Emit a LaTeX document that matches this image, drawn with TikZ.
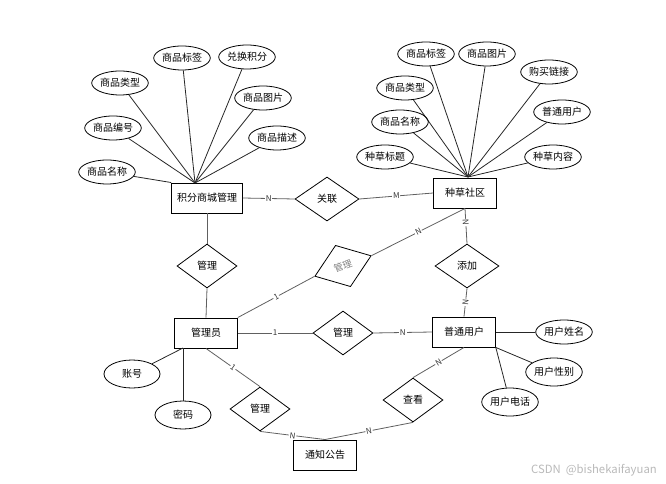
\documentclass[tikz,border=0pt]{standalone}
\usepackage{fontspec}
\setmainfont{Noto Sans CJK SC}
\usetikzlibrary{shapes.geometric}

\tikzset{
	entity/.style={draw, line width=0.7pt, minimum width=47pt, minimum height=22.5pt, inner sep=1pt},
	attr/.style={draw, ellipse, line width=0.6pt, minimum width=40.5pt, minimum height=18pt, inner sep=0pt},
	bigattr/.style={attr, minimum width=42pt, minimum height=21pt},
	rel/.style={draw, diamond, line width=0.6pt, minimum width=45pt, minimum height=33pt, inner sep=0pt},
	link/.style={draw=gray!75!black, line width=0.6pt},
	card/.style={font=\fontsize{6}{7}\selectfont, fill=white, inner sep=0.6pt, text=black!80},
}

\begin{document}
\begin{tikzpicture}[x=0.75pt, y=-0.75pt, font=\fontsize{7.5}{9}\selectfont]
	\useasboundingbox (0,0) rectangle (666,484);

	% entities
	\node[entity, minimum width=53pt] (jf) at (207,198) {积分商城管理};
	\node[entity] (zc) at (465,193) {种草社区};
	\node[entity] (admin) at (206,333) {管理员};
	\node[entity] (user) at (464,332) {普通用户};
	\node[entity] (notice) at (325,455) {通知公告};

	% relations
	\node[rel, minimum width=48pt] (gl) at (327,199) {关联};
	\node[rel] (mg1) at (207,266) {管理};
	\node[rel, rotate=20, text=gray, font=\fontsize{7}{8}\selectfont] (mg2) at (343,266) {管理};
	\node[rel, minimum width=48pt] (tj) at (467,266) {添加};
	\node[rel] (mg3) at (343,333) {管理};
	\node[rel] (mg4) at (260,409) {管理};
	\node[rel] (ck) at (413,400) {查看};

	% attributes of 积分商城管理
	\coordinate (jfhub) at (195,183);
	\foreach \nm/\x/\y/\txt in {
		ja/182/58/商品标签, jb/247/57/兑换积分, jc/120/83/商品类型,
		jd/263/98/商品图片, je/113/128/商品编号, jg/277/138/商品描述
	}{
		\node[attr] (\nm) at (\x,\y) {\txt};
		\draw[line width=0.6pt, black!85] (\nm) -- (jfhub);
	};
	\node[attr] (jh) at (107,172) {商品名称};
	\draw[line width=0.6pt, black!85] (jh) -- (jf.north west);

	% attributes of 种草社区
	\coordinate (zchub) at (468,177);
	\foreach \nm/\x/\y/\txt in {
		za/426/54/商品标签, zb/487/54/商品图片, zd/549/72/购买链接,
		ze/405/88/商品类型, zf/562/112/普通用户, zg/400/122/商品名称,
		zh/385/157/种草标题, zi/553/157/种草内容
	}{
		\node[attr] (\nm) at (\x,\y) {\txt};
		\draw[line width=0.6pt, black!85] (\nm) -- (zchub);
	};

	% attributes of 管理员
	\coordinate (afoot) at (183,348);
	\node[bigattr] (zh1) at (132,374) {账号};
	\node[bigattr] (mm) at (183,415) {密码};
	\draw[line width=0.6pt, black!85] (zh1) -- (afoot);
	\draw[line width=0.6pt, black!85] (mm) -- (afoot);

	% attributes of 普通用户
	\node[bigattr, minimum height=18pt] (xm) at (564,332) {用户姓名};
	\node[bigattr] (xb) at (554,372) {用户性别};
	\node[bigattr] (dh) at (510,402) {用户电话};
	\draw[line width=0.6pt, black!85] (user.east) -- (xm);
	\draw[line width=0.6pt, black!85] (user.south east) -- (xb);
	\draw[line width=0.6pt, black!85] (user.south east) -- (dh);

	% connectors
	\draw[link] (jf.east) -- node[card] {N} (gl.west);
	\draw[link] (gl.east) -- node[card] {M} (zc.west);
	\draw[link] (jf.south) -- (mg1.north);
	\draw[link] (mg1.south) -- (admin.north);
	\draw[link] (admin.north east) -- node[card, sloped] {1} (mg2.west);
	\draw[link] (mg2.east) -- node[card, sloped] {N} (zc.south);
	\draw[link] (zc.south) -- node[card, sloped, pos=0.4] {N} (tj.north);
	\draw[link] (tj.south) -- node[card, sloped] {N} (user.north);
	\draw[link] (admin.east) -- node[card] {1} (mg3.west);
	\draw[link] (mg3.east) -- node[card] {N} (user.west);
	\draw[link] (admin.south) -- node[card, sloped] {1} (mg4.north);
	\draw[link] (mg4.south) -- node[card, sloped] {N} (notice.north);
	\draw[link] (ck.south) -- node[card, sloped] {N} (notice.north);
	\draw[link] (ck.north) -- node[card, sloped] {N} (user.south);

	\node[text=gray!55, font=\fontsize{8.5}{10}\selectfont] (wm) at (594,470) {CSDN\ \ @bishekaifayuan};
\end{tikzpicture}
\end{document}
